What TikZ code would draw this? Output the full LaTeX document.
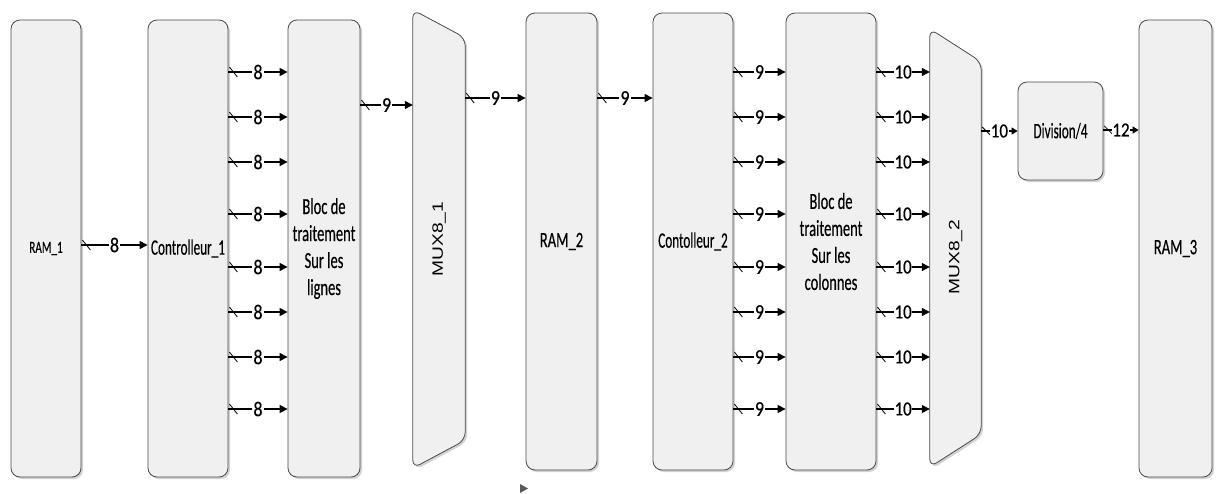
\documentclass[tikz,border=0pt]{standalone}
\usepackage{fontspec}
\setmainfont{Carlito}
\newfontfamily\cfont[FakeStretch=0.6,FakeBold=0.3]{Carlito}
\newfontfamily\rfont[FakeStretch=0.66,FakeBold=0.3]{Carlito}
\newfontfamily\bfont[FakeStretch=0.63,FakeBold=0.3]{Carlito}
\newfontfamily\dfont[FakeStretch=0.85,FakeBold=0.6]{Carlito}
\newfontfamily\mfont[FakeStretch=1.28]{Liberation Sans}
\usetikzlibrary{arrows.meta,shadows,decorations.markings,calc}
\definecolor{boxfill}{HTML}{F0F0F0}
\definecolor{boxline}{HTML}{4A4A4A}
\begin{document}
\begin{tikzpicture}[x=1pt,y=-1pt,
  blk/.style={draw=boxline, line width=0.8pt, fill=boxfill, rounded corners=9pt,
    drop shadow={shadow xshift=2pt, shadow yshift=-2pt, fill=black!35, opacity=0.5},
    inner sep=0pt, align=center, font=\cfont\fontsize{22}{27}\selectfont},
  ramtxt/.style={font=\rfont\fontsize{22}{27}\selectfont},
  bloctxt/.style={font=\bfont\fontsize{23}{27}\selectfont},
  ghost/.style={draw=none, inner sep=0pt},
  muxs/.style={draw=boxline, line width=0.8pt, fill=boxfill, rounded corners=8pt,
    drop shadow={shadow xshift=2pt, shadow yshift=-2pt, fill=black!35, opacity=0.5}},
  muxlbl/.style={font=\mfont\fontsize{15}{15}\selectfont, inner sep=0pt, rotate=90},
  lbl/.style={fill=white, inner sep=1pt, font=\dfont\fontsize{21}{21}\selectfont},
  slbl/.style={fill=white, inner sep=0.5pt, font=\dfont\fontsize{20}{20}\selectfont},
  bus/.style={draw=black, line width=1.2pt, -{Triangle[length=8pt,width=8pt]},
    postaction={decorate},
    decoration={markings, mark=at position 5pt with {\draw[line width=0.8pt,-] (-4pt,5pt) -- (4pt,-5pt);}}},
  sbus/.style={draw=black, line width=1.2pt, -{Triangle[length=6pt,width=7pt]},
    postaction={decorate},
    decoration={markings, mark=at position 5pt with {\draw[line width=0.8pt,-] (-4pt,4pt) -- (4pt,-4pt);}}}
]
\useasboundingbox (0,0) rectangle (1216,493);

% blocks
\node[blk, ramtxt, minimum width=70pt, minimum height=457pt] (ram1) at (46,248.5)
  {\fontsize{17}{20}\selectfont RAM\_1};
\node[blk, minimum width=80pt, minimum height=457pt] (ctrl1) at (188,248.5) {Controlleur\_1};
\node[blk, bloctxt, minimum width=72pt, minimum height=457pt] (blocL) at (324,248.5)
  {Bloc de\\traitement\\Sur les\\lignes};
\node[ghost, minimum width=52pt, minimum height=458pt] (mux1) at (439,239) {};
\node[blk, ramtxt, minimum width=71pt, minimum height=457pt] (ram2) at (561.5,241.5) {RAM\_2};
\node[blk, minimum width=80pt, minimum height=457pt] (ctrl2) at (693,241.5) {Contolleur\_2};
\node[blk, bloctxt, minimum width=90pt, minimum height=457pt] (blocC) at (831,241.5)
  {Bloc de\\traitement\\Sur les\\colonnes};
\node[ghost, minimum width=51pt, minimum height=438pt] (mux2) at (955.5,248) {};
\node[blk, minimum width=85pt, minimum height=98pt] (div) at (1060.5,131) {Division/4};
\node[blk, ramtxt, minimum width=73pt, minimum height=457pt] (ram3) at (1175.5,248.5) {RAM\_3};

% multiplexer shapes
\draw[muxs] (mux1.north west) -- ($(mux1.north east)+(0,28)$) -- ($(mux1.south east)+(0,-28)$)
  -- (mux1.south west) -- cycle;
\draw[muxs] (mux2.north west) -- ($(mux2.north east)+(0,33)$) -- ($(mux2.south east)+(0,-33)$)
  -- (mux2.south west) -- cycle;
\node[muxlbl] (mux1t) at (mux1.center) {MUX8\_1};
\node[muxlbl] (mux2t) at ($(mux2.center)+(0,9)$) {MUX8\_2};

% connectors
\draw[bus] (ram1.east |- 0,245) -- node[lbl]{8} (ctrl1.west |- 0,245);
\foreach \yy in {72,117,162,214,267,312,357,409} {
  \draw[bus] (ctrl1.east |- 0,\yy) -- node[lbl]{8} (blocL.west |- 0,\yy);
  \draw[bus] (ctrl2.east |- 0,\yy) -- node[lbl]{9} (blocC.west |- 0,\yy);
  \draw[bus] (blocC.east |- 0,\yy) -- node[slbl]{10} (mux2.west |- 0,\yy);
}
\draw[bus] (blocL.east |- 0,105) -- node[lbl]{9} (mux1.west |- 0,105);
\draw[bus] (mux1.east |- 0,98) -- node[lbl]{9} (ram2.west |- 0,98);
\draw[bus] (ram2.east |- 0,98) -- node[lbl]{9} (ctrl2.west |- 0,98);
\draw[sbus] (mux2.east |- 0,131) -- node[slbl]{10} (div.west |- 0,131);
\draw[sbus] (div.east |- 0,130) -- node[slbl]{12} (ram3.west |- 0,130);

% stray small arrowhead
\fill[black!65] (520,484) -- (528,488.5) -- (520,493) -- cycle;
\end{tikzpicture}
\end{document}
